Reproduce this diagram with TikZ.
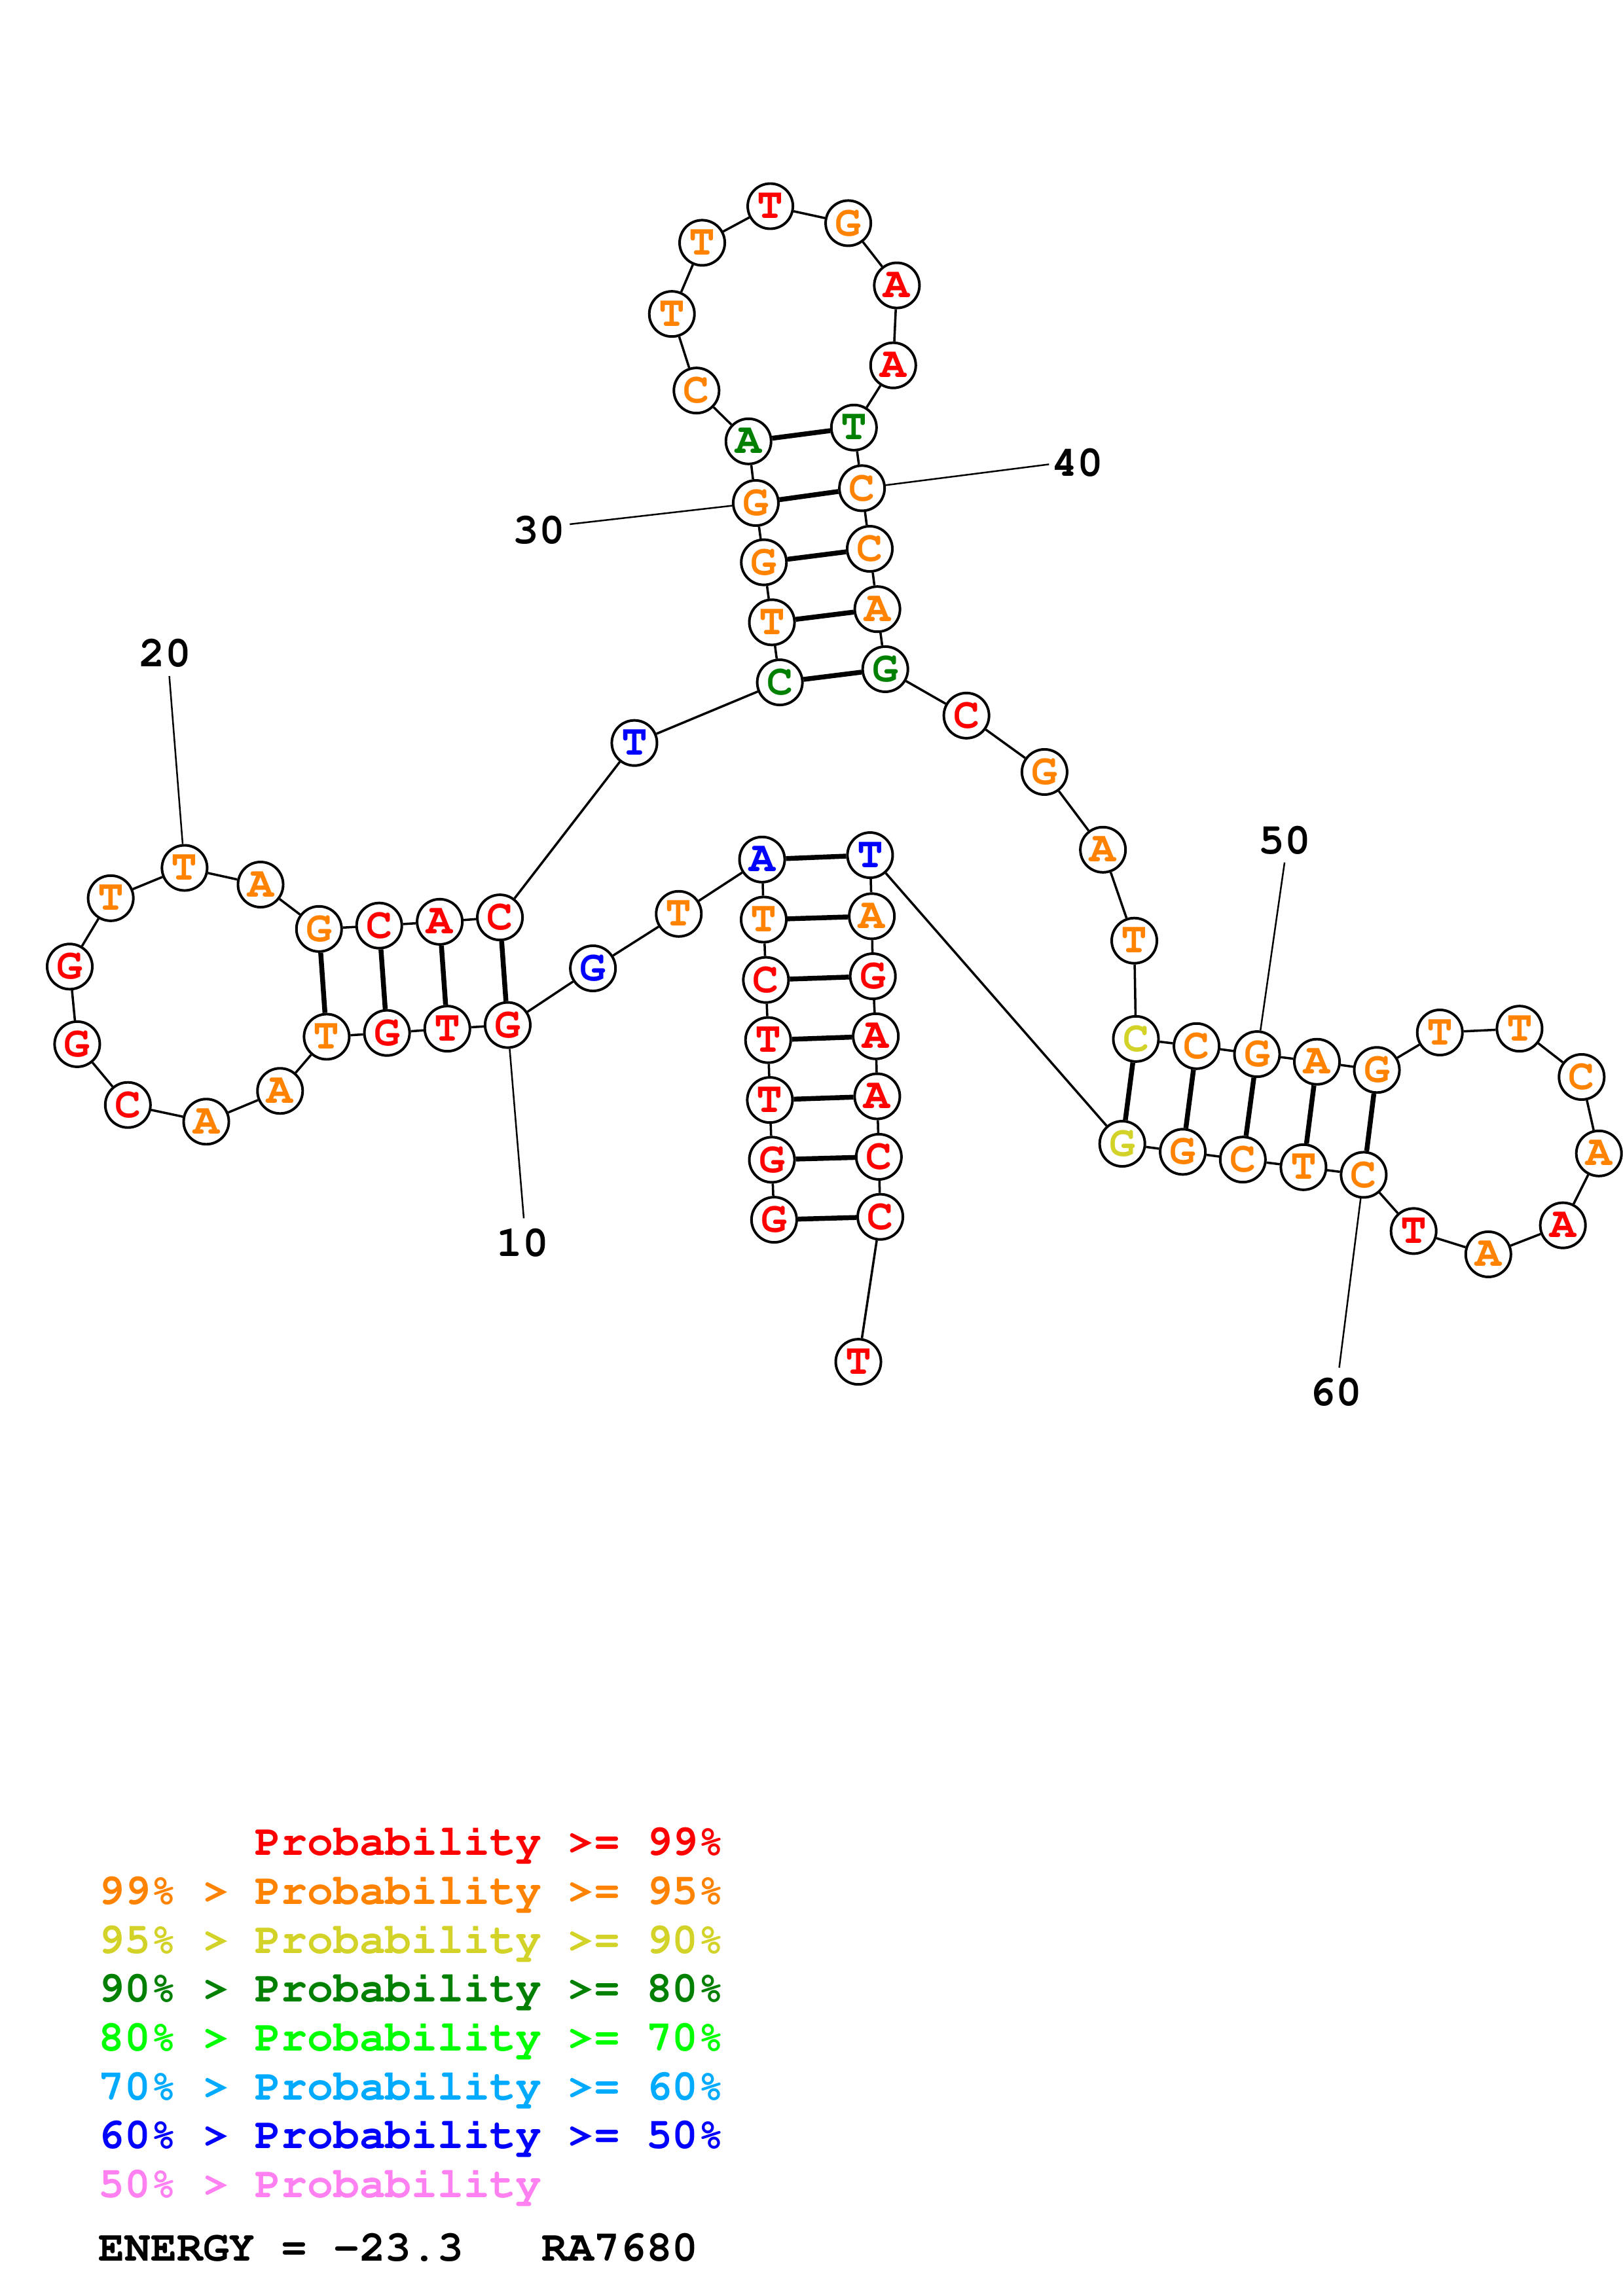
\documentclass[tikz,border=0pt]{standalone}
\usepackage[T1]{fontenc}
\usepackage{courier}
\definecolor{pr}{RGB}{255,0,0}
\definecolor{po}{RGB}{255,130,0}
\definecolor{py}{RGB}{210,210,40}
\definecolor{pg}{RGB}{0,128,0}
\definecolor{pl}{RGB}{0,255,0}
\definecolor{ps}{RGB}{0,170,255}
\definecolor{pb}{RGB}{0,0,255}
\definecolor{pp}{RGB}{255,128,240}
\begin{document}
\begin{tikzpicture}[x=0.18953mm,y=-0.18953mm,line join=round,
  nt/.style={circle,draw,fill=white,line width=0.95pt,minimum size=5.85mm,inner sep=0pt,font=\fontsize{16}{16}\selectfont\ttfamily\bfseries},
  bb/.style={line width=0.85pt},
  bp/.style={line width=1.8pt},
  nl/.style={line width=0.6pt},
  num/.style={inner sep=0pt,font=\fontsize{16}{16}\selectfont\ttfamily\bfseries},
  leg/.style={inner sep=0pt,anchor=base west,font=\fontsize{16}{16}\selectfont\ttfamily\bfseries}]
\useasboundingbox (0,0) rectangle (1108,1568);
% bases
\foreach \n/\x/\y/\b/\c in {1/528.5/833/G/pr,2/527/792/G/pr,3/525.6/751.2/T/pr,4/524.4/710.3/T/pr,5/522.9/669.2/C/pr,
  6/521.4/628/T/po,7/520.3/587/A/pb,8/463.4/624.1/T/po,9/404.8/661.3/G/pb,10/346.6/700/G/pr,
  11/305.4/702.5/T/pr,12/264.2/705.4/G/pr,13/223/708/T/po,14/191.2/745/A/po,15/140.8/766/A/po,
  16/87.3/754.6/C/pr,17/52.7/713.1/G/pr,18/47.6/660.1/G/pr,19/75.6/613.4/T/po,20/126/592.7/T/po,
  21/177.9/604.1/A/po,22/217.8/634.4/G/po,23/258.9/632.1/C/pr,24/300.2/629.5/A/pr,25/341.3/626.5/C/pr,
  26/433.1/507.4/T/pb,27/532.4/466/C/pg,28/527/425/T/po,29/521.5/384/G/po,30/516/343.5/G/po,
  31/511/301.4/A/pg,32/475.5/266.7/C/po,33/458.7/214.4/T/po,34/479.4/165.8/T/po,35/525.9/140.8/T/pr,
  36/579.1/152.4/G/po,37/612.3/194.9/A/pr,38/609.8/249.5/A/pr,39/583/292/T/pg,40/588.5/333.4/C/po,
  41/593.8/374.8/C/po,42/599/416/A/po,43/604.4/457/G/pg,44/659.8/488.7/C/pr,45/713.1/527.2/G/po,
  46/753/580.3/A/po,47/774.4/642.4/T/po,48/775.5/709.5/C/py,49/816.9/714.4/C/po,50/858.2/719.9/G/po,
  51/899.1/725.1/A/po,52/940/730.7/G/po,53/983/705.1/T/po,54/1037.4/702.5/T/po,55/1079.8/735.5/C/po,
  56/1091.6/787.7/A/po,57/1067/836.8/A/pr,58/1016.1/856.6/A/po,59/965.1/840.7/T/pr,60/931/802.3/C/po,
  61/889.9/797.1/T/po,62/848.5/791.9/C/po,63/807.5/786.6/G/po,64/766.2/781.1/G/py,65/594/584/T/pb,
  66/595.2/625.7/A/po,67/595.9/666.7/G/pr,68/597.9/707.7/A/pr,69/598.9/748.7/A/pr,70/600/790/C/pr,
  71/601/831/C/pr,72/586/930/T/pr}
  \node[nt,text=\c] (n\n) at (\x,\y) {\b};
% backbone and pairs
\foreach \i [count=\j from 2] in {1,...,71} \draw[bb] (n\i) -- (n\j);
\foreach \a/\b in {1/71,2/70,3/69,4/68,5/67,6/66,7/65,10/25,11/24,12/23,13/22,
  27/43,28/42,29/41,30/40,31/39,48/64,49/63,50/62,51/61,52/60}
  \draw[bp] (n\a) -- (n\b);
% numbering
\foreach \n/\x/\y/\u/\v in {10/357.6/832/357/849,20/115.6/461.7/113/446,30/389/358/368/362,
  40/716.2/317.1/735.7/316.3,50/877/589/877/574,60/914.3/934/912/951}
  {\coordinate (l\n) at (\x,\y); \draw[nl] (n\n) -- (l\n); \node[num] (t\n) at (\u,\v) {\n};}
% legend
\node[leg,text=pr] (p1) at (67,1267) {\phantom{99\% > }Probability >= 99\%};
\node[leg,text=po] (p2) at (67,1300.4) {99\% > Probability >= 95\%};
\node[leg,text=py] (p3) at (67,1333.8) {95\% > Probability >= 90\%};
\node[leg,text=pg] (p4) at (67,1367.2) {90\% > Probability >= 80\%};
\node[leg,text=pl] (p5) at (67,1400.6) {80\% > Probability >= 70\%};
\node[leg,text=ps] (p6) at (67,1434) {70\% > Probability >= 60\%};
\node[leg,text=pb] (p7) at (67,1467.4) {60\% > Probability >= 50\%};
\node[leg,text=pp] (p8) at (67,1500.8) {50\% > Probability};
\node[leg] (en) at (67,1544) {ENERGY = -23.3\ \ \ RA7680};
\end{tikzpicture}
\end{document}
